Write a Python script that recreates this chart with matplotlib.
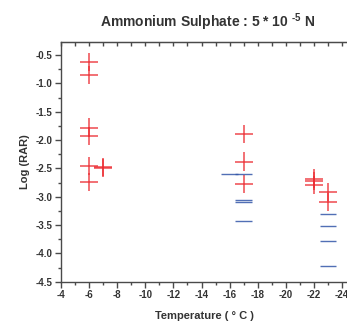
import numpy as np
import matplotlib
matplotlib.use("Agg")
import matplotlib.pyplot as plt
from matplotlib.ticker import MultipleLocator

plt.rcParams['font.family'] = ['Liberation Sans', 'DejaVu Sans']
plt.rcParams['font.weight'] = 'bold'
plt.rcParams['mathtext.fontset'] = 'custom'
plt.rcParams['mathtext.bf'] = 'Liberation Sans:bold'
plt.rcParams['mathtext.rm'] = 'Liberation Sans:bold'
plt.rcParams['mathtext.default'] = 'bf'

# red crosses (value with vertical error)
x_red = [-6, -6, -6, -6, -6, -6, -7, -7, -17, -17, -17, -22, -22, -22, -23, -23]
y_red = [-0.63, -0.85, -1.78, -1.93, -2.46, -2.74, -2.47, -2.50,
         -1.90, -2.38, -2.78, -2.68, -2.73, -2.79, -2.92, -3.10]
err_red = 0.16

# blue dashes
x_blue = [-16, -17, -17, -17, -17, -23, -23, -23, -23]
y_blue = [-2.60, -2.60, -3.05, -3.10, -3.42, -3.31, -3.52, -3.78, -4.23]

red = '#ec2a30'
blue = '#3356a8'
txt = '#333333'

fig = plt.figure(figsize=(3.47, 3.21), dpi=100)
ax = fig.add_axes([0.1758, 0.1224, 0.826, 0.7468])

ax.errorbar(x_red, y_red, xerr=0.65, yerr=err_red, fmt='none',
            ecolor=red, elinewidth=1.1, capsize=0, alpha=0.85)
ax.errorbar(x_blue, y_blue, xerr=0.6, fmt='none',
            ecolor=blue, elinewidth=1.0, capsize=0, alpha=0.85)

ax.set_xlim(-4, -24.4)
ax.set_ylim(-4.5, -0.27)

ax.xaxis.set_minor_locator(MultipleLocator(1))
ax.yaxis.set_minor_locator(MultipleLocator(0.25))
ax.set_xticks(np.arange(-4, -25, -2))
ax.set_xticklabels([str(v) for v in range(-4, -25, -2)])
ax.set_yticks(np.arange(-4.5, -0.4, 0.5))
ax.set_yticklabels(['%.1f' % v for v in np.arange(-4.5, -0.4, 0.5)])

for s in ['left', 'bottom', 'top']:
    ax.spines[s].set_color('#4a4a4a')
    ax.spines[s].set_linewidth(1.0)
ax.spines['right'].set_visible(False)

ax.tick_params(axis='both', which='major', direction='out', length=4,
               width=1.0, color='#4a4a4a', labelsize=7, labelcolor=txt, pad=2)
ax.tick_params(axis='both', which='minor', direction='out', length=2,
               width=1.0, color='#4a4a4a')
ax.tick_params(axis='x', which='both', top=False)

# top ticks hang inward
sec = ax.secondary_xaxis('top')
sec.xaxis.set_major_locator(MultipleLocator(1))
sec.tick_params(direction='in', length=3, width=1.0, color='#4a4a4a', labeltop=False)
sec.spines['top'].set_color('#4a4a4a')

ax.set_xlabel('Temperature ( ° C )', fontsize=8, fontweight='bold', color=txt, labelpad=8)
ax.set_ylabel('Log (RAR)', fontsize=8, fontweight='bold', color=txt, labelpad=4)
fig.text(0.597, 0.93, r'Ammonium Sulphate : 5 * 10 $^{\text{-5}}$ N', ha='center', va='center',
         fontsize=10, fontweight='bold', color=txt)

fig.savefig('out.png', dpi=100)
